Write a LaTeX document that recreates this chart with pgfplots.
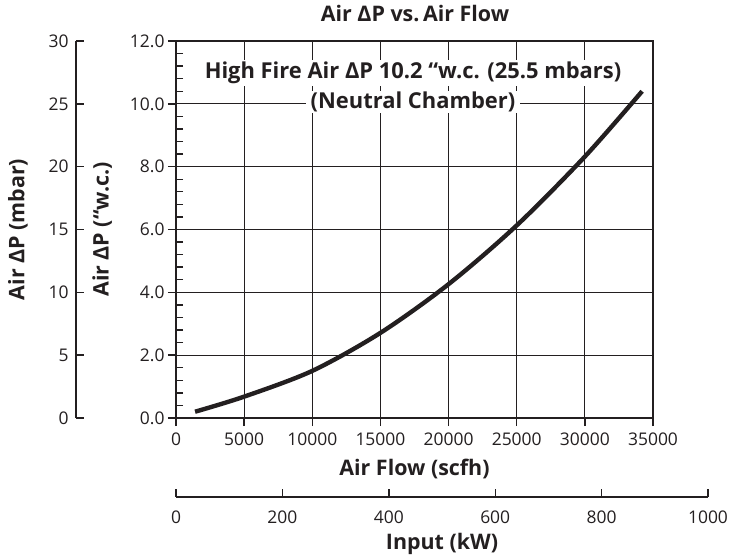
\documentclass[border=0pt]{standalone}
\usepackage{pgfplots}
\pgfplotsset{compat=1.18}
\usepackage{fontspec}
\setmainfont{Open Sans}
\definecolor{ink}{HTML}{231F20}

\begin{document}
\begin{tikzpicture}[x=1bp,y=1bp]
\pgfplotsset{
  every axis/.append style={
    scale only axis,
    font=\fontsize{17.5}{20}\selectfont,
    /pgf/number format/assume math mode=true,
    /pgf/number format/1000 sep={},
    axis line style={ink, line width=1.6pt},
    tick style={ink, line width=1.4pt},
    major tick length=8bp,
    label style={font=\fontsize{21.5}{24}\selectfont\bfseries, text=ink},
    ticklabel style={text=ink},
  },
}

% mbar scale
\begin{axis}[
    at={(76bp,141bp)}, anchor=south west,
    width=10bp, height=377bp,
    xmin=0, xmax=1, ymin=0, ymax=30,
    axis x line=none, axis y line*=left,
    ytick={0,5,...,30},
    yticklabel style={xshift=-4bp},
    tick align=inside,
    ylabel={Air ΔP (mbar)},
    ylabel style={at={(axis description cs:-5.8,0.5)}, anchor=center},
]
\end{axis}

% main chart
\begin{axis}[
    at={(176bp,141bp)}, anchor=south west,
    width=477bp, height=377bp,
    xmin=0, xmax=35000, ymin=0, ymax=12,
    xtick={0,5000,...,35000},
    ytick={0,2,...,12},
    scaled x ticks=false,
    xticklabel style={yshift=-3bp},
    yticklabel style={/pgf/number format/.cd, fixed, fixed zerofill, precision=1},
    minor y tick num=4,
    xtick pos=bottom, ytick pos=left,
    tick align=outside,
    minor tick length=-7bp,
    grid=major,
    major grid style={ink, line width=0.9pt},
    xlabel={Air Flow (scfh)},
    xlabel style={at={(axis description cs:0.5,-0.135)}, anchor=center},
    ylabel={Air ΔP (“w.c.)},
    ylabel style={at={(axis description cs:-0.155,0.5)}, anchor=center},
    title={Air ΔP vs.\,Air Flow},
    title style={at={(axis description cs:0.501,1.058)}, anchor=center,
                 font=\fontsize{21.5}{24}\selectfont\bfseries, text=ink},
]
\node[fill=white, inner xsep=5bp, inner ysep=2bp, text=ink,
      font=\fontsize{22}{24}\selectfont\bfseries]
  at (axis cs:17390,10.98) {High Fire Air ΔP 10.2 “w.c. (25.5 mbars)};
\node[fill=white, inner xsep=5bp, inner ysep=1bp, text=ink,
      font=\fontsize{22}{24}\selectfont\bfseries]
  at (axis cs:17390,10.06) {(Neutral Chamber)};
\addplot[ink, line width=4.4pt, smooth] coordinates {
  (1400,0.20) (5000,0.68) (10000,1.50) (15000,2.71) (20000,4.26)
  (25000,6.13) (30000,8.32) (34200,10.40)
};
\end{axis}

% kW scale
\begin{axis}[
    at={(176bp,62bp)}, anchor=south west,
    width=532bp, height=10bp,
    xmin=0, xmax=1000, ymin=0, ymax=1,
    axis y line=none, axis x line*=bottom,
    xtick={0,200,...,1000},
    xticklabel style={yshift=-10bp},
    tick align=inside,
    xlabel={Input (kW)},
    xlabel style={at={(axis description cs:0.5,-4.7)}, anchor=center},
]
\end{axis}
\pgfresetboundingbox
\path[use as bounding box] (0bp,0bp) rectangle (748bp,559bp);
\end{tikzpicture}
\end{document}
